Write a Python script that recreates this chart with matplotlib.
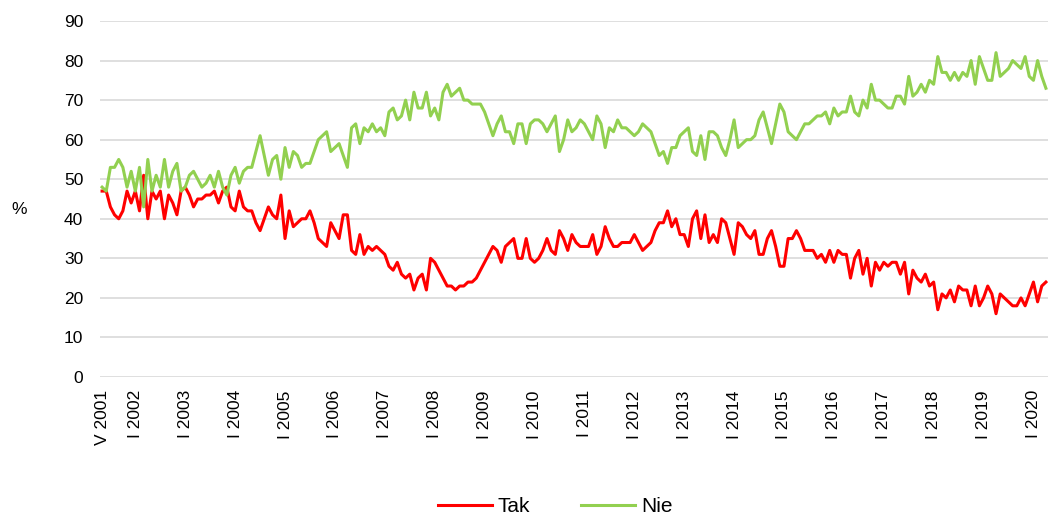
import matplotlib
matplotlib.use("Agg")
import matplotlib.pyplot as plt

plt.rcParams["font.family"] = ["Liberation Sans", "DejaVu Sans"]

# monthly readings, V 2001 .. IV 2020
tak = [47, 47, 43, 41, 40, 42, 47, 44,                      # 2001 (V-XII)
       47, 42, 51, 40, 47, 45, 47, 40, 46, 44, 41, 47,      # 2002
       48, 46, 43, 45, 45, 46, 46, 47, 44, 47, 48, 43,      # 2003
       42, 47, 43, 42, 42, 39, 37, 40, 43, 41, 40, 46,      # 2004
       35, 42, 38, 39, 40, 40, 42, 39, 35, 34, 33, 39,      # 2005
       37, 35, 41, 41, 32, 31, 36, 31, 33, 32, 33, 32,      # 2006
       31, 28, 27, 29, 26, 25, 26, 22, 25, 26, 22, 30,      # 2007
       29, 27, 25, 23, 23, 22, 23, 23, 24, 24, 25, 27,      # 2008
       29, 31, 33, 32, 29, 33, 34, 35, 30, 30, 35, 30,      # 2009
       29, 30, 32, 35, 32, 31, 37, 35, 32, 36, 34, 33,      # 2010
       33, 33, 36, 31, 33, 38, 35, 33, 33, 34, 34, 34,      # 2011
       36, 34, 32, 33, 34, 37, 39, 39, 42, 38, 40, 36,      # 2012
       36, 33, 40, 42, 35, 41, 34, 36, 34, 40, 39, 35,      # 2013
       31, 39, 38, 36, 35, 37, 31, 31, 35, 37, 33, 28,      # 2014
       28, 35, 35, 37, 35, 32, 32, 32, 30, 31, 29, 32,      # 2015
       29, 32, 31, 31, 25, 30, 32, 26, 30, 23, 29, 27,      # 2016
       29, 28, 29, 29, 26, 29, 21, 27, 25, 24, 26, 23,      # 2017
       24, 17, 21, 20, 22, 19, 23, 22, 22, 18, 23, 18,      # 2018
       20, 23, 21, 16, 21, 20, 19, 18, 18, 20, 18, 21,      # 2019
       24, 19, 23, 24]                                      # 2020 (I-IV)

nie = [48, 47, 53, 53, 55, 53, 48, 52,
       47, 53, 43, 55, 47, 51, 48, 55, 48, 52, 54, 47,
       48, 51, 52, 50, 48, 49, 51, 48, 52, 48, 46, 51,
       53, 49, 52, 53, 53, 57, 61, 56, 51, 55, 56, 50,
       58, 53, 57, 56, 53, 54, 54, 57, 60, 61, 62, 57,
       58, 59, 56, 53, 63, 64, 59, 63, 62, 64, 62, 63,
       61, 67, 68, 65, 66, 70, 65, 72, 68, 68, 72, 66,
       68, 65, 72, 74, 71, 72, 73, 70, 70, 69, 69, 69,
       67, 64, 61, 64, 66, 62, 62, 59, 64, 64, 59, 64,
       65, 65, 64, 62, 64, 66, 57, 60, 65, 62, 63, 65,
       64, 62, 60, 66, 64, 58, 63, 62, 65, 63, 63, 62,
       61, 62, 64, 63, 62, 59, 56, 57, 54, 58, 58, 61,
       62, 63, 57, 56, 61, 55, 62, 62, 61, 58, 56, 60,
       65, 58, 59, 60, 60, 61, 65, 67, 63, 59, 64, 69,
       67, 62, 61, 60, 62, 64, 64, 65, 66, 66, 67, 64,
       68, 66, 67, 67, 71, 67, 66, 70, 68, 74, 70, 70,
       69, 68, 68, 71, 71, 69, 76, 71, 72, 74, 72, 75,
       74, 81, 77, 77, 75, 77, 75, 77, 76, 80, 74, 81,
       78, 75, 75, 82, 76, 77, 78, 80, 79, 78, 81, 76,
       75, 80, 76, 73]

years = list(range(2002, 2021))
tick_pos = [0] + [8 + 12 * k for k in range(len(years))]
tick_lab = ["V 2001"] + ["I %d" % y for y in years]

x = list(range(len(tak)))

fig = plt.figure(figsize=(10.48, 5.15), dpi=100)
ax = fig.add_axes([100 / 1048, 1 - 377 / 515, 948 / 1048, 356 / 515])

ax.plot(x, tak, color="#FF0000", lw=2.2, label="Tak")
ax.plot(x, nie, color="#92D050", lw=2.2, label="Nie")

ax.set_ylim(0, 90)
ax.set_yticks(range(0, 91, 10))
ax.set_xlim(-0.5, len(tak) - 0.5)
ax.set_xticks(tick_pos)
ax.set_xticklabels(tick_lab, rotation=90, va="top")
ax.tick_params(axis="both", length=0, labelsize=12.5, colors="black")
ax.tick_params(axis="x", pad=9.5)
ax.tick_params(axis="y", pad=12)
ax.grid(axis="y", color="#D9D9D9", lw=1.2)
ax.set_axisbelow(True)
for s in ax.spines.values():
    s.set_visible(False)

fig.text(19.5 / 1048, 1 - 210 / 515, "%", fontsize=12.5, ha="center", va="center")

fig.legend(loc="center", bbox_to_anchor=(555 / 1048, 1 - 507 / 515), ncol=2, frameon=False,
           fontsize=15, handlelength=2.6, columnspacing=2.4, handletextpad=0.3)

fig.savefig("out.png", dpi=100)
